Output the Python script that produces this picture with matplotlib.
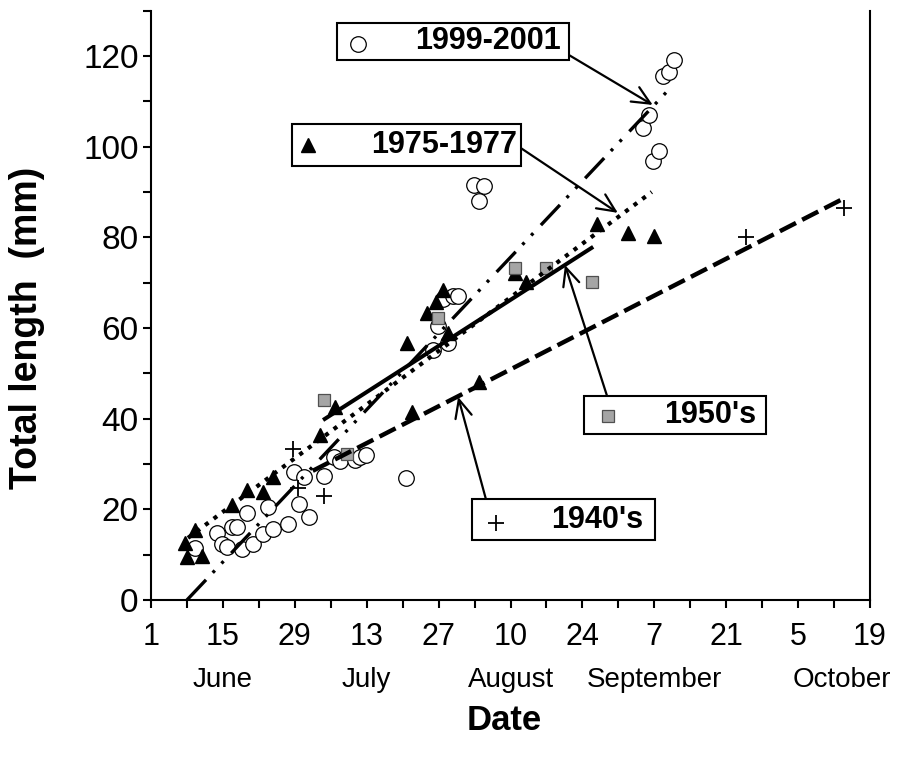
import matplotlib
matplotlib.use('Agg')
import matplotlib.pyplot as plt
import matplotlib.transforms as mtransforms
from matplotlib.patches import Rectangle
from matplotlib.ticker import MultipleLocator

plt.rcParams['font.family'] = ['Liberation Sans', 'DejaVu Sans']
plt.rcParams['lines.scale_dashes'] = False

# x values are days after 1 June, y values total length (mm)
days_99 = [8.6, 12.9, 13.8, 14.8, 15.8, 16.7, 17.7, 18.7, 19.9, 21.8, 22.8, 23.8, 26.7,
           27.8, 28.8, 29.8, 30.8, 33.7, 35.6, 36.8, 39.7, 40.7, 41.9, 49.6, 54.9, 55.9,
           56.9, 57.8, 58.8, 59.8, 62.9, 64.8, 63.9, 95.8, 97.0, 97.7, 98.9, 99.7, 100.9, 101.8]
len_99 = [11.5, 14.8, 12.4, 11.7, 16.1, 16.1, 11.3, 19.2, 12.4, 14.6, 20.5, 15.7, 16.8,
          28.2, 21.2, 27.1, 18.3, 27.4, 31.5, 30.7, 30.9, 31.5, 32.0, 26.9, 55.2, 60.4,
          66.4, 56.7, 67.1, 67.1, 91.6, 91.3, 88.0, 104.1, 107.0, 96.8, 99.1, 115.6, 116.5, 119.1]

days_75 = [6.6, 7.0, 8.6, 9.9, 15.8, 18.7, 21.8, 23.8, 32.9, 35.8, 49.8, 50.8, 53.7,
           55.5, 56.9, 57.8, 63.9, 70.9, 73.0, 86.8, 92.9, 97.9]
len_75 = [12.6, 9.5, 15.4, 9.7, 21.0, 24.3, 23.8, 27.1, 36.4, 42.6, 56.7, 41.5, 63.3,
          65.7, 68.4, 58.9, 48.1, 72.1, 70.2, 82.9, 81.0, 80.3]

days_50 = [33.7, 38.2, 55.9, 70.9, 76.9, 85.9]
len_50 = [44.1, 32.2, 62.2, 73.2, 73.2, 70.2]

days_40 = [27.6, 28.6, 33.7, 115.9, 134.9]
len_40 = [33.3, 24.7, 22.9, 80.1, 86.5]

# fitted trend lines (end points)
fit_99_x, fit_99_y = [7.0, 101.5], [0.0, 113.4]
fit_75_x, fit_75_y = [7.2, 97.5], [13.7, 90.0]
fit_50_x, fit_50_y = [33.5, 86.1], [39.7, 77.9]
fit_40_x, fit_40_y = [31.5, 135.1], [28.5, 88.7]

xtick_labels = ['1', '15', '29', '13', '27', '10', '24', '7', '21', '5', '19']
month_names = ['June', 'July', 'August', 'September', 'October']
month_days = [14, 42, 70, 98, 134.5]

fig = plt.figure(figsize=(9.01, 7.62), dpi=100)
ax = fig.add_axes([0.1676, 0.2126, 0.798, 0.7734])

# points
ax.plot(days_99, len_99, 'o', ms=11.2, mfc='white', mec='black', mew=0.9, zorder=3)
ax.plot(days_75, len_75, '^', ms=10.5, color='black', zorder=3)
ax.plot(days_50, len_50, 's', ms=8.5, mfc='#a5a5a5', mec='#505050', mew=0.9, zorder=3)
ax.plot(days_40, len_40, '+', ms=11.5, color='black', mew=1.3, zorder=3)

# trend lines
l99, = ax.plot(fit_99_x, fit_99_y, color='black', lw=2.4, solid_capstyle='butt', zorder=4)
l99.set_dashes([20, 7, 2.2, 7, 2.2, 8])
l99.set_dash_capstyle('butt')
l75, = ax.plot(fit_75_x, fit_75_y, color='black', lw=3.0, zorder=4)
l75.set_dashes([3.0, 4.7])
l75.set_dash_capstyle('butt')
ax.plot(fit_50_x, fit_50_y, color='black', lw=2.9, solid_capstyle='butt', zorder=4)
l40, = ax.plot(fit_40_x, fit_40_y, color='black', lw=3.2, zorder=4)
l40.set_dashes([13, 5])
l40.set_dash_capstyle('butt')

# labelled boxes with arrows
boxes = [
    # (x0, x1, y0, y1, marker x, marker y, text x, label, arrow start, arrow tip)
    (36.2, 81.4, 119.1, 127.3, 40.3, 122.7, 79.8, '1999-2001', (81.4, 120.2), (97.7, 109.2)),
    (27.5, 72.0, 95.7, 105.0, 30.6, 100.3, 71.3, '1975-1977', (72.0, 99.7), (90.9, 85.4)),
    (84.3, 119.7, 36.6, 45.0, 89.0, 40.6, 117.8, "1950's", (88.8, 45.0), (80.6, 73.9)),
    (62.5, 98.1, 13.2, 22.3, 67.2, 17.0, 95.8, "1940's", (65.2, 22.3), (59.8, 44.8)),
]
styles = [
    dict(marker='o', ms=11.2, mfc='white', mec='black', mew=0.9),
    dict(marker='^', ms=10.5, color='black'),
    dict(marker='s', ms=8.5, mfc='#a5a5a5', mec='#505050', mew=0.9),
    dict(marker='+', ms=11.5, color='black', mew=1.3),
]
for (x0, x1, y0, y1, mx, my, tx, label, a0, a1), st in zip(boxes, styles):
    ax.add_patch(Rectangle((x0, y0), x1 - x0, y1 - y0, facecolor='white',
                           edgecolor='black', lw=1.5, zorder=6))
    ax.plot([mx], [my], linestyle='none', zorder=7, **st)
    ax.text(tx, (y0 + y1) / 2, label, ha='right', va='center', fontsize=22,
            fontweight='bold', zorder=7)
    ax.annotate('', xy=a1, xytext=a0,
                arrowprops=dict(arrowstyle='->,head_length=0.65,head_width=0.3',
                                lw=1.6, color='black', shrinkA=0, shrinkB=0,
                                mutation_scale=20), zorder=5)

ax.set_xlim(0, 140)
ax.set_ylim(0, 130)
ax.xaxis.set_major_locator(MultipleLocator(14))
ax.xaxis.set_minor_locator(MultipleLocator(7))
ax.yaxis.set_major_locator(MultipleLocator(20))
ax.yaxis.set_minor_locator(MultipleLocator(10))
ax.set_xticks(range(0, 141, 14), xtick_labels)
ax.tick_params(axis='both', which='both', direction='out', width=1.5, length=6)
ax.tick_params(axis='x', labelsize=22, pad=10)
ax.tick_params(axis='y', labelsize=24, pad=3)
for side in ['left', 'bottom', 'right']:
    ax.spines[side].set_linewidth(1.5)
ax.spines['top'].set_visible(False)

trans = mtransforms.blended_transform_factory(ax.transData, ax.transAxes)
for d, name in zip(month_days, month_names):
    ax.text(d, -0.136, name, transform=trans, ha='center', va='center', fontsize=20)

fig.text(0.56, 0.055, 'Date', ha='center', va='center', fontsize=25, fontweight='bold')
fig.text(0.03, 0.57, 'Total length  (mm)', ha='center', va='center', rotation=90,
         fontsize=27, fontweight='bold')

fig.savefig('out.png', dpi=100)
